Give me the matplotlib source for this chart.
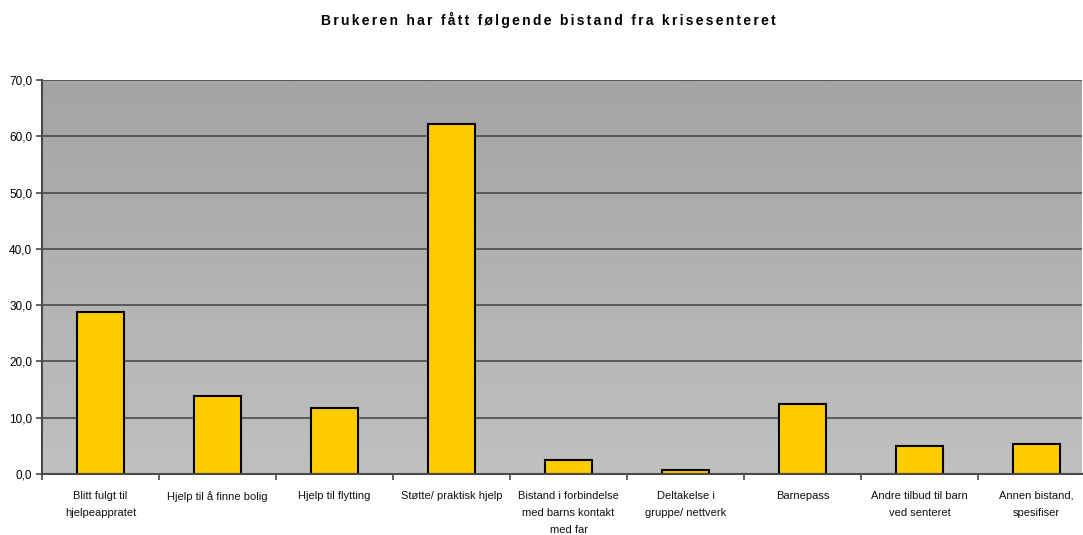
import matplotlib
matplotlib.use("Agg")
import matplotlib.pyplot as plt
import numpy as np
from matplotlib.colors import LinearSegmentedColormap

categories = [
    "Blitt fulgt til\nhjelpeappratet",
    "Hjelp til å finne bolig",
    "Hjelp til flytting",
    "Støtte/ praktisk hjelp",
    "Bistand i forbindelse\nmed barns kontakt\nmed far",
    "Deltakelse i\ngruppe/ nettverk",
    "Barnepass",
    "Andre tilbud til barn\nved senteret",
    "Annen bistand,\nspesifiser",
]
values = [28.8, 13.8, 11.7, 62.2, 2.4, 0.7, 12.4, 5.0, 5.3]
yticks = [0, 10, 20, 30, 40, 50, 60, 70]
title = "Brukeren har fått følgende bistand fra krisesenteret"

plt.rcParams['font.family'] = ['Liberation Sans', 'DejaVu Sans']

W, H = 1083, 535
left, right, top, bottom = 42, 1082, 80, 474
cat_px = 117.0

fig = plt.figure(figsize=(W / 100, H / 100), dpi=100)
ax = fig.add_axes([left / W, 1 - bottom / H, (right - left) / W, (bottom - top) / H])

n = len(categories)
x = np.arange(n)
xmax = -0.5 + (right - left) / cat_px
ax.set_xlim(-0.5, xmax)
ax.set_ylim(0, 70)

# gradient background
cmap = LinearSegmentedColormap.from_list("bg", ["#c0c0c0", "#a4a4a4"])
grad = np.linspace(0, 1, 256).reshape(-1, 1)
ax.imshow(grad, extent=[-0.5, xmax, 0, 70], origin="lower",
          aspect="auto", cmap=cmap, zorder=0)

for t in yticks[1:]:
    ax.axhline(t, color="#4a4a4a", lw=1.2, zorder=1)

ax.bar(x, values, width=0.40, color="#ffcc00", edgecolor="black", linewidth=1.5, zorder=2)

ax.set_yticks(yticks)
ax.set_yticklabels([f"{v:.1f}".replace(".", ",") for v in yticks], fontsize=8.5)
ax.set_xticks(x)
ax.set_xticklabels(categories, fontsize=8, linespacing=1.9, color="#111111")
ax.tick_params(axis="x", length=0, pad=12)
ax.set_xticks(np.arange(-0.5, xmax, 1.0), minor=True)
ax.tick_params(axis="x", which="minor", length=4, width=1.2, color="#4a4a4a", direction="out")
ax.tick_params(axis="y", length=4, width=1.2, color="#4a4a4a", direction="out", pad=3)

for side in ["top", "right"]:
    ax.spines[side].set_visible(False)
for side in ["left", "bottom"]:
    ax.spines[side].set_color("#4a4a4a")
    ax.spines[side].set_linewidth(1.5)

spaced_title = "\u2006".join(title)
fig.text(548 / W, 1 - 20 / H, spaced_title, ha="center", va="center", fontsize=10,
         fontweight="bold")

fig.savefig("out.png", dpi=100)
